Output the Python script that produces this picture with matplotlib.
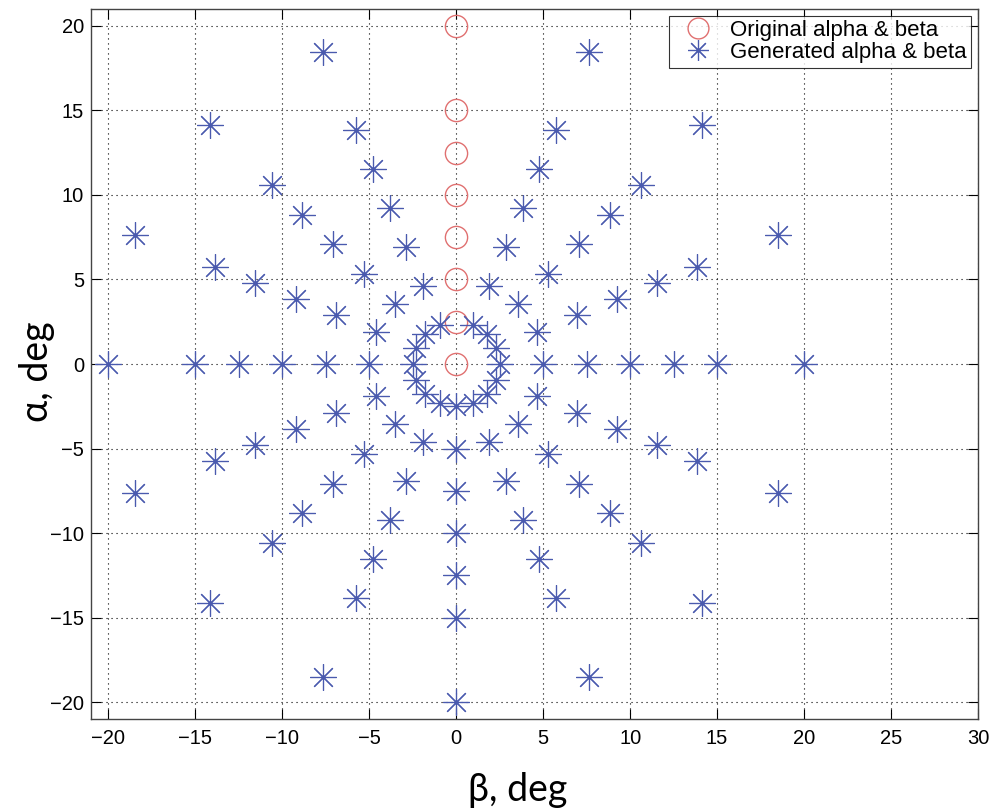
import matplotlib.pyplot as plt

# original points along the alpha axis
orig_beta = [0, 0, 0, 0, 0, 0, 0, 0]
orig_alpha = [0, 2.5, 5, 7.5, 10, 12.5, 15, 20]

# generated points, one ring per radius
gen_beta_r2_5 = [0.96, 1.77, 2.31, 2.5, 2.31, 1.77, 0.96, 0, -0.96, -1.77, -2.31, -2.5, -2.31, -1.77, -0.96]
gen_alpha_r2_5 = [2.31, 1.77, 0.96, 0, -0.96, -1.77, -2.31, -2.5, -2.31, -1.77, -0.96, 0, 0.96, 1.77, 2.31]
gen_beta_r5 = [1.91, 3.54, 4.62, 5, 4.62, 3.54, 1.91, 0, -1.91, -3.54, -4.62, -5, -4.62, -3.54, -1.91]
gen_alpha_r5 = [4.62, 3.54, 1.91, 0, -1.91, -3.54, -4.62, -5, -4.62, -3.54, -1.91, 0, 1.91, 3.54, 4.62]
gen_beta_r7_5 = [2.87, 5.30, 6.93, 7.5, 6.93, 5.30, 2.87, 0, -2.87, -5.30, -6.93, -7.5, -6.93, -5.30, -2.87]
gen_alpha_r7_5 = [6.93, 5.30, 2.87, 0, -2.87, -5.30, -6.93, -7.5, -6.93, -5.30, -2.87, 0, 2.87, 5.30, 6.93]
gen_beta_r10 = [3.83, 7.07, 9.24, 10, 9.24, 7.07, 3.83, 0, -3.83, -7.07, -9.24, -10, -9.24, -7.07, -3.83]
gen_alpha_r10 = [9.24, 7.07, 3.83, 0, -3.83, -7.07, -9.24, -10, -9.24, -7.07, -3.83, 0, 3.83, 7.07, 9.24]
gen_beta_r12_5 = [4.78, 8.84, 11.55, 12.5, 11.55, 8.84, 4.78, 0, -4.78, -8.84, -11.55, -12.5, -11.55, -8.84, -4.78]
gen_alpha_r12_5 = [11.55, 8.84, 4.78, 0, -4.78, -8.84, -11.55, -12.5, -11.55, -8.84, -4.78, 0, 4.78, 8.84, 11.55]
gen_beta_r15 = [5.74, 10.61, 13.86, 15, 13.86, 10.61, 5.74, 0, -5.74, -10.61, -13.86, -15, -13.86, -10.61, -5.74]
gen_alpha_r15 = [13.86, 10.61, 5.74, 0, -5.74, -10.61, -13.86, -15, -13.86, -10.61, -5.74, 0, 5.74, 10.61, 13.86]
gen_beta_r20 = [7.65, 14.14, 18.48, 20, 18.48, 14.14, 7.65, 0, -7.65, -14.14, -18.48, -20, -18.48, -14.14, -7.65]
gen_alpha_r20 = [18.48, 14.14, 7.65, 0, -7.65, -14.14, -18.48, -20, -18.48, -14.14, -7.65, 0, 7.65, 14.14, 18.48]

gen_beta = gen_beta_r2_5 + gen_beta_r5 + gen_beta_r7_5 + gen_beta_r10 + gen_beta_r12_5 + gen_beta_r15 + gen_beta_r20
gen_alpha = gen_alpha_r2_5 + gen_alpha_r5 + gen_alpha_r7_5 + gen_alpha_r10 + gen_alpha_r12_5 + gen_alpha_r15 + gen_alpha_r20

xticks = [-20, -15, -10, -5, 0, 5, 10, 15, 20, 25, 30]
yticks = [-20, -15, -10, -5, 0, 5, 10, 15, 20]

plt.rcParams['font.family'] = ['Liberation Sans', 'DejaVu Sans']

fig = plt.figure(figsize=(10, 8.08), dpi=100)
ax = fig.add_axes([0.091, 0.110, 0.887, 0.879])

ax.plot(orig_beta, orig_alpha, linestyle='none', marker='o', markersize=16,
        markerfacecolor='none', markeredgecolor='#e07070', markeredgewidth=1.0,
        label='Original alpha & beta', zorder=3)
ax.plot(gen_beta, gen_alpha, linestyle='none', marker=(8, 2, 0), markersize=19,
        markeredgecolor='#4a5aae', markeredgewidth=0.85,
        label='Generated alpha & beta', zorder=3)

ax.set_xlim(-21, 30)
ax.set_ylim(-21, 21)
ax.set_xticks(xticks)
ax.set_yticks(yticks)
ax.set_xticklabels([str(t).replace('-', '\u2212') for t in xticks])
ax.set_yticklabels([str(t).replace('-', '\u2212') for t in yticks])
ax.tick_params(direction='in', top=True, right=True, length=7, width=0.8,
               labelsize=14.5)
ax.tick_params(axis='x', pad=7)
ax.tick_params(axis='y', pad=5)
ax.grid(True, linestyle=(0, (1, 3.5)), color='black', linewidth=0.8)
for s in ax.spines.values():
    s.set_color('#444444')
    s.set_linewidth(1.0)

ax.set_xlabel('β, deg', family=['Lato', 'DejaVu Sans'], fontsize=27)
ax.set_ylabel('α, deg', family=['Lato', 'DejaVu Sans'], fontsize=27)
ax.xaxis.set_label_coords(0.481, -0.075)
ax.yaxis.set_label_coords(-0.041, 0.489)

leg = ax.legend(loc='upper right', fontsize=16, frameon=True, fancybox=False,
                edgecolor='black', borderaxespad=0.3, handletextpad=0.35,
                borderpad=0.2, labelspacing=0.05, handlelength=2.2)
leg.get_frame().set_linewidth(0.8)
for h in leg.legend_handles:
    h.set_markersize(15)

fig.savefig('out.png', dpi=100)
